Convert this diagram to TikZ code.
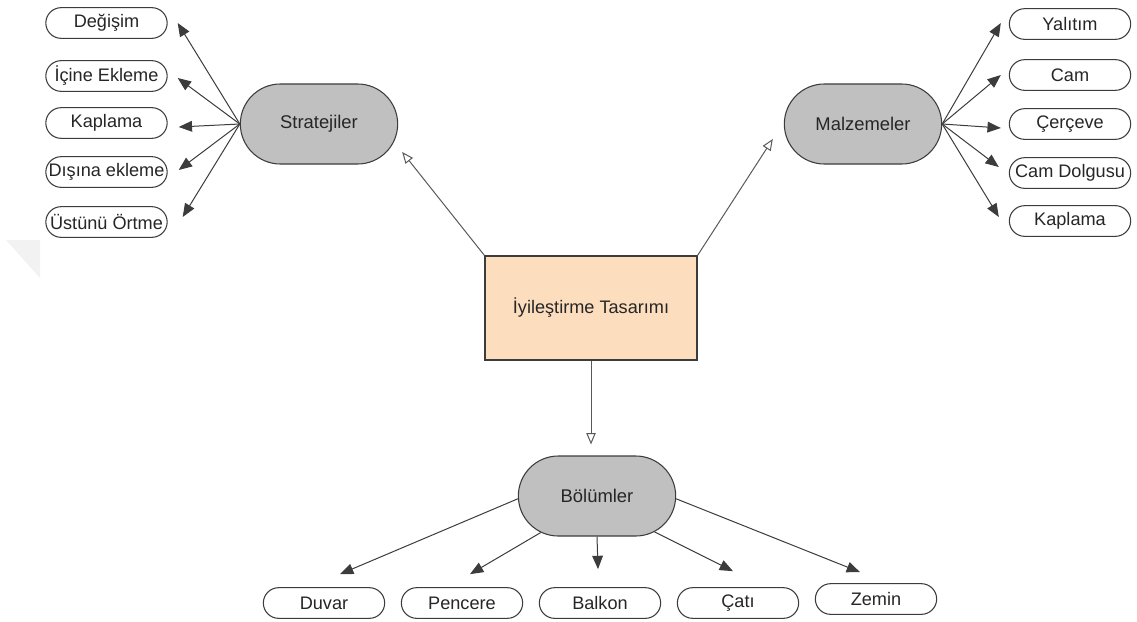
\documentclass[tikz,border=0pt]{standalone}
\usepackage{fontspec}
\setmainfont{Liberation Sans}
\usetikzlibrary{shapes.misc,arrows.meta,calc}
\definecolor{peach}{RGB}{252,221,190}
\definecolor{pillgray}{RGB}{192,192,192}
\definecolor{edge}{RGB}{60,60,60}
\tikzset{
  leaf/.style={rounded rectangle, draw=edge, line width=0.8pt, fill=white,
    minimum width=92pt, minimum height=23pt, inner sep=0.5pt,
    font=\fontsize{13.6}{15}\selectfont, text=black!85},
  hub/.style={rounded rectangle, draw=edge, line width=0.8pt, fill=pillgray,
    minimum width=120pt, minimum height=60pt, inner sep=1pt,
    font=\fontsize{13.8}{15}\selectfont, text=black!85},
  core/.style={rectangle, draw=edge, line width=0.8pt, fill=peach,
    minimum width=159pt, minimum height=78pt,
    font=\fontsize{13.6}{15}\selectfont, text=black!85},
  solidarrow/.style={draw=edge, line width=0.75pt, -{Triangle[length=10pt,width=8pt]}},
  openarrow/.style={draw=edge!85, line width=0.75pt, -{Triangle[open,length=8.5pt,width=7pt,fill=white]}}
}
\begin{document}
\begin{tikzpicture}[x=0.75pt,y=-0.75pt]
\useasboundingbox (0,0) rectangle (1137,621);
% faint watermark
\fill[gray!10] (6,240) -- (40,240) -- (40,278) -- cycle;

% central box
\node[core] (T) at (591,308) {İyileştirme Tasarımı};

% hubs
\node[hub] (S) at (319,124) {Stratejiler};
\node[hub] (M) at (863,124) {Malzemeler};
\node[hub] (B) at (597,496) {Bölümler};

% left leaves
\node[leaf] (L1) at (106.5,23) {Değişim};
\node[leaf] (L2) at (106.5,76) {İçine Ekleme};
\node[leaf] (L3) at (106.5,123) {Kaplama};
\node[leaf] (L4) at (106.5,172) {Dışına ekleme};
\node[leaf] (L5) at (106.5,222) {Üstünü Örtme};

% right leaves
\node[leaf] (R1) at (1070,24) {Yalıtım};
\node[leaf] (R2) at (1070,75) {Cam};
\node[leaf] (R3) at (1070,124) {Çerçeve};
\node[leaf] (R4) at (1070,173) {Cam Dolgusu};
\node[leaf] (R5) at (1070,221) {Kaplama};

% bottom leaves
\node[leaf] (D1) at (324,603) {Duvar};
\node[leaf] (D2) at (462,603) {Pencere};
\node[leaf] (D3) at (600,603) {Balkon};
\node[leaf] (D4) at (738,603) {Çatı};
\node[leaf] (D5) at (876,599) {Zemin};

% open arrows from central box
\draw[openarrow] (T.north west) -- ($(S.east)+(4,28)$);
\draw[openarrow] (T.north east) -- ($(M.west)+(-11,15)$);
\draw[openarrow] (T.south) -- ($(T.south |- B.north)+(0,-11)$);

% left arrows
\draw[solidarrow] (S.west) -- ($(L1.east)+(10,0)$);
\draw[solidarrow] (S.west) -- ($(L2.east)+(10,2)$);
\draw[solidarrow] (S.west) -- ($(L3.east)+(11,4)$);
\draw[solidarrow] (S.west) -- ($(L4.east)+(11,-2)$);
\draw[solidarrow] (S.west) -- ($(L5.east)+(15,-5)$);

% right arrows
\draw[solidarrow] (M.east) -- ($(R1.west)+(-8,-1)$);
\draw[solidarrow] (M.east) -- ($(R2.west)+(-8,0)$);
\draw[solidarrow] (M.east) -- ($(R3.west)+(-8,4)$);
\draw[solidarrow] (M.east) -- ($(R4.west)+(-10,-6)$);
\draw[solidarrow] (M.east) -- ($(R5.west)+(-10,-4)$);

% bottom arrows
\draw[solidarrow] (B.182) -- ($(D1.north)+(16,-13)$);
\draw[solidarrow] (B.213) -- ($(D2.north)+(8,-13)$);
\draw[solidarrow] (B.south) -- ($(D3.north)+(-2,-18)$);
\draw[solidarrow] (B.328) -- ($(D4.north)+(-5,-16)$);
\draw[solidarrow] (B.358) -- ($(D5.north)+(-16,-11)$);
\end{tikzpicture}
\end{document}
